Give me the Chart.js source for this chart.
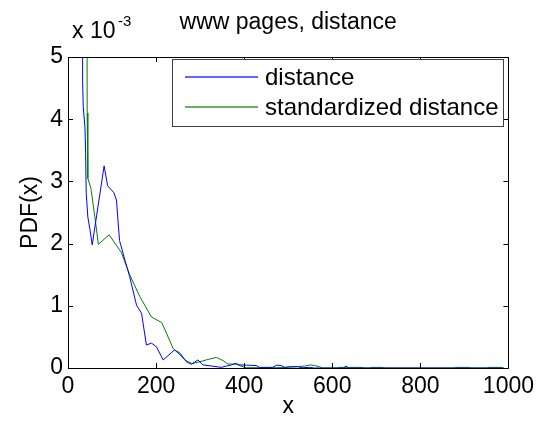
<!DOCTYPE html>
<html>
<head>
<meta charset="utf-8">
<script src="https://cdn.jsdelivr.net/npm/chart.js@4/dist/chart.umd.min.js"></script>
<style>
    html, body { margin: 0; padding: 0; background: #ffffff; }
    #wrap { width: 539px; height: 425px; }
</style>
</head>
<body>
<div id="wrap"><canvas id="pdfChart" width="539" height="425"></canvas></div>
<script>

// ==========================================
// DATA  (PDF values in units of 1e-3)
// ==========================================

const distanceX = [31, 33.2, 34.6, 38.5, 40, 41.4, 45, 50, 55, 82, 90, 104, 110, 117, 129, 140, 155.6, 167, 178, 189.6, 201, 216, 242, 254, 269, 280, 295, 306, 328, 348, 359, 371, 380, 390, 405, 427, 435, 464, 474, 484, 492, 503, 521, 532, 548, 560, 625, 631, 637, 990];
const distanceY = [14, 4.6, 4.2, 3.87, 3.46, 2.81, 2.43, 2.22, 1.98, 3.25, 2.93, 2.82, 2.70, 2.05, 1.74, 1.47, 1.01, 0.88, 0.37, 0.40, 0.34, 0.13, 0.29, 0.24, 0.10, 0.06, 0.13, 0.05, 0.03, 0.01, 0.03, 0.05, 0.075, 0.05, 0.045, 0.04, 0.01, 0.01, 0.045, 0.04, 0.01, 0.02, 0.02, 0.005, 0.01, 0, 0, 0.03, 0, 0];

const standardX = [42, 43.5, 45, 52, 61, 69, 93.5, 121, 140, 163, 189.5, 213, 239, 250, 265, 282, 299, 314, 337, 352, 363, 382, 393, 405, 473, 495, 537, 550, 560, 571, 578, 610, 616, 667, 673, 685, 691, 714, 720, 877, 883, 910, 916, 950, 956, 982, 988];
const standardY = [14, 4.1, 3.05, 2.89, 2.43, 1.99, 2.14, 1.86, 1.50, 1.15, 0.82, 0.73, 0.31, 0.24, 0.13, 0.07, 0.10, 0.13, 0.17, 0.12, 0.064, 0.06, 0.03, 0.005, 0.005, 0.01, 0.03, 0.05, 0.04, 0.02, 0, 0, 0.01, 0.01, 0, 0, 0.01, 0.01, 0, 0, 0.01, 0.01, 0, 0, 0.01, 0.01, 0];

const seriesLabels = ["distance", "standardized distance"];
const seriesColors = ["#0000FF", "#008000"];
const xTicks = [0, 200, 400, 600, 800, 1000];
const yTicks = [0, 1, 2, 3, 4, 5];

const FONT = "'Liberation Sans', Arial, Helvetica, sans-serif";

function toPoints(xs, ys) {
    return xs.map((x, i) => ({ x: x, y: ys[i] }));
}

// ==========================================
// FRAME, INWARD TICKS, TITLE, LEGEND
// ==========================================

const matlabFrame = {
    id: "matlabFrame",
    afterDraw(chart) {
        const ctx = chart.ctx;
        const a = chart.chartArea;
        const xs = chart.scales.x;
        const ys = chart.scales.y;
        const len = 5;

        ctx.save();
        ctx.strokeStyle = "#000000";
        ctx.lineWidth = 1;
        ctx.beginPath();

        ctx.rect(Math.round(a.left) + 0.5, Math.round(a.top) + 0.5,
                 Math.round(a.right - a.left), Math.round(a.bottom - a.top));

        xTicks.forEach(v => {
            const px = Math.round(xs.getPixelForValue(v)) + 0.5;
            ctx.moveTo(px, a.bottom);
            ctx.lineTo(px, a.bottom - len);
            ctx.moveTo(px, a.top);
            ctx.lineTo(px, a.top + len);
        });

        yTicks.forEach(v => {
            const py = Math.round(ys.getPixelForValue(v)) + 0.5;
            ctx.moveTo(a.left, py);
            ctx.lineTo(a.left + len, py);
            ctx.moveTo(a.right, py);
            ctx.lineTo(a.right - len, py);
        });

        ctx.stroke();

        // title and exponent
        ctx.fillStyle = "#000000";
        ctx.textBaseline = "alphabetic";
        ctx.textAlign = "center";
        ctx.font = "23px " + FONT;
        ctx.fillText("www pages, distance", (a.left + a.right) / 2, 29);

        ctx.textAlign = "left";
        ctx.font = "23px " + FONT;
        ctx.fillText("x 10", 72, 38);
        ctx.font = "15px " + FONT;
        ctx.fillText("-3", 118, 26);

        // legend box
        const bx = 172, by = 59, bw = 331, bh = 67;
        ctx.fillStyle = "#ffffff";
        ctx.fillRect(bx, by, bw, bh);
        ctx.strokeStyle = "#404040";
        ctx.lineWidth = 1;
        ctx.strokeRect(bx + 0.5, by + 0.5, bw, bh);

        seriesLabels.forEach((label, i) => {
            const ly = 77 + i * 30;

            // soft 2px sample line, like the antialiased plot lines
            ctx.globalAlpha = 0.6;
            ctx.fillStyle = seriesColors[i];
            ctx.fillRect(185, ly - 1, 73, 2);
            ctx.globalAlpha = 1;

            ctx.fillStyle = "#000000";
            ctx.font = "24px " + FONT;
            ctx.textBaseline = "middle";
            ctx.fillText(label, 265, ly + 1);
        });

        ctx.restore();
    }
};

// ==========================================
// PDF CHART
// ==========================================

const canvas = document.getElementById("pdfChart");

new Chart(canvas, {

    type: "line",

    data: {

        datasets: [

            {
                label: seriesLabels[0],
                data: toPoints(distanceX, distanceY),
                borderColor: seriesColors[0],
                borderWidth: 1,
                pointRadius: 0,
                tension: 0,
                fill: false,
            },

            {
                label: seriesLabels[1],
                data: toPoints(standardX, standardY),
                borderColor: seriesColors[1],
                borderWidth: 1,
                pointRadius: 0,
                tension: 0,
                fill: false,
            }

        ]

    },

    options: {

        responsive: false,
        animation: false,
        devicePixelRatio: 1,

        layout: {
            padding: { top: 57, right: 29, left: 0, bottom: 0 }
        },

        plugins: {
            legend: { display: false },
            title: { display: false },
            tooltip: { enabled: false }
        },

        scales: {

            x: {
                type: "linear",
                min: 0,
                max: 1000,
                afterBuildTicks: s => { s.ticks = xTicks.map(v => ({ value: v })); },
                afterFit: s => { s.height = 57; },
                grid: { display: false, drawTicks: false },
                border: { display: false },
                ticks: {
                    color: "#000000",
                    font: { family: FONT, size: 23 },
                    padding: 5,
                    maxRotation: 0,
                    autoSkip: false,
                    callback: function (value) {
                        return String(value);
                    }
                },
                title: {
                    display: true,
                    text: "x",
                    color: "#000000",
                    font: { family: FONT, size: 23 },
                    padding: { top: 0, bottom: 5 }
                }
            },

            y: {
                type: "linear",
                min: 0,
                max: 5,
                afterBuildTicks: s => { s.ticks = yTicks.map(v => ({ value: v })); },
                afterFit: s => { s.width = 68; },
                grid: { display: false, drawTicks: false },
                border: { display: false },
                ticks: {
                    color: "#000000",
                    font: { family: FONT, size: 23 },
                    padding: 5,
                    autoSkip: false,
                    callback: function (value) {
                        return String(value);
                    }
                },
                title: {
                    display: true,
                    text: "PDF(x)",
                    color: "#000000",
                    font: { family: FONT, size: 23 },
                    padding: { top: 17, bottom: 0 }
                }
            }

        }

    },

    plugins: [matlabFrame]

});

</script>
</body>
</html>
